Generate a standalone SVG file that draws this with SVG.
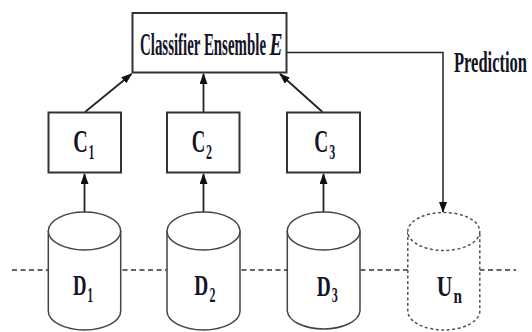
<svg xmlns="http://www.w3.org/2000/svg" width="532" height="332" viewBox="0 0 532 332">
<style>
.box{fill:#fff;stroke:#333;stroke-width:2}
.cyl{fill:#fff;stroke:#444;stroke-width:1.5}
.cylu{fill:#fff;stroke:#555;stroke-width:1.5;stroke-dasharray:3 2.5}
.lbl{font-family:"Liberation Serif","Times New Roman",serif;fill:#141428;font-weight:bold}
.big{font-size:31px}
.mid{font-size:29px}
.sub{font-size:21px}
.conn{fill:none;stroke:#222;stroke-width:1.8}
.dash{fill:none;stroke:#333;stroke-width:1.6;stroke-dasharray:5 3.5}
</style>
<defs>
<marker id="ah" markerUnits="userSpaceOnUse" markerWidth="11" markerHeight="8" refX="10" refY="4" orient="auto">
<path d="M0,0 L11,4 L0,8 z" fill="#111"/>
</marker>
</defs>
<g id="timeline">
<line class="dash" x1="12" y1="270" x2="516" y2="270"/>
</g>
<g id="connectors">
<line class="conn" x1="84.5" y1="212" x2="84.5" y2="174" marker-end="url(#ah)"/>
<line class="conn" x1="203.5" y1="212" x2="203.5" y2="174" marker-end="url(#ah)"/>
<line class="conn" x1="323.5" y1="212" x2="323.5" y2="174" marker-end="url(#ah)"/>
<line class="conn" x1="85" y1="112" x2="131.5" y2="74" marker-end="url(#ah)"/>
<line class="conn" x1="203.5" y1="112" x2="203.5" y2="74" marker-end="url(#ah)"/>
<line class="conn" x1="322.5" y1="112" x2="280" y2="74" marker-end="url(#ah)"/>
<polyline class="conn" points="287,52.5 443,52.5 443,212" marker-end="url(#ah)" style="stroke-width:1.5"/>
</g>
<g id="ensemble">
<rect class="box" x="132.5" y="13" width="154" height="59.5"/>
<text class="lbl big" transform="translate(140,55) scale(0.48,1)" textLength="262.5" lengthAdjust="spacingAndGlyphs">Classifier Ensemble</text>
<text class="lbl big" transform="translate(269.5,55) scale(0.63,1)" font-style="italic" textLength="20.6" lengthAdjust="spacingAndGlyphs">E</text>
</g>
<g id="prediction">
<text class="lbl" font-size="30" transform="translate(454,71.5) scale(0.55,1)" textLength="132.7" lengthAdjust="spacingAndGlyphs">Prediction</text>
</g>
<g id="c1">
<rect class="box" x="48.5" y="112.5" width="72.5" height="60"/>
<text class="lbl big" transform="translate(73.3,151.7) scale(0.65,1)" textLength="22.3" lengthAdjust="spacingAndGlyphs">C</text>
<text class="lbl sub" transform="translate(88.8,158.7) scale(0.55,1)" textLength="10" lengthAdjust="spacingAndGlyphs">1</text>
</g>
<g id="c2">
<rect class="box" x="167" y="112.5" width="72.5" height="60"/>
<text class="lbl big" transform="translate(191.7,151.7) scale(0.65,1)" textLength="20.8" lengthAdjust="spacingAndGlyphs">C</text>
<text class="lbl sub" transform="translate(206,158.7) scale(0.55,1)" textLength="10.9" lengthAdjust="spacingAndGlyphs">2</text>
</g>
<g id="c3">
<rect class="box" x="287" y="112.5" width="73" height="60"/>
<text class="lbl big" transform="translate(314.3,151.7) scale(0.65,1)" textLength="21.5" lengthAdjust="spacingAndGlyphs">C</text>
<text class="lbl sub" transform="translate(329.3,158.7) scale(0.55,1)" textLength="10.9" lengthAdjust="spacingAndGlyphs">3</text>
</g>
<g id="d1">
<path class="cyl" d="M48.3,231 L48.3,311 A36.2,19 0 0 0 120.7,311 L120.7,231"/>
<ellipse class="cyl" cx="84.5" cy="231" rx="36.2" ry="19"/>
<text class="lbl mid" transform="translate(73,295) scale(0.65,1)" textLength="20.8" lengthAdjust="spacingAndGlyphs">D</text>
<text class="lbl sub" transform="translate(87.5,301.5) scale(0.55,1)" textLength="10" lengthAdjust="spacingAndGlyphs">1</text>
</g>
<g id="d2">
<path class="cyl" d="M167,231 L167,311 A36.5,19 0 0 0 240,311 L240,231"/>
<ellipse class="cyl" cx="203.5" cy="231" rx="36.5" ry="19"/>
<text class="lbl mid" transform="translate(194.3,295) scale(0.65,1)" textLength="21.5" lengthAdjust="spacingAndGlyphs">D</text>
<text class="lbl sub" transform="translate(209.5,301.5) scale(0.55,1)" textLength="10.9" lengthAdjust="spacingAndGlyphs">2</text>
</g>
<g id="d3">
<path class="cyl" d="M287.3,231 L287.3,311 A36.4,19 0 0 0 360,311 L360,231"/>
<ellipse class="cyl" cx="323.6" cy="231" rx="36.4" ry="19"/>
<text class="lbl mid" transform="translate(316.7,295.5) scale(0.65,1)" textLength="21.5" lengthAdjust="spacingAndGlyphs">D</text>
<text class="lbl sub" transform="translate(331.7,302) scale(0.55,1)" textLength="10.9" lengthAdjust="spacingAndGlyphs">3</text>
</g>
<g id="un">
<path class="cylu" d="M407.8,231.5 L407.8,311 A36,19 0 0 0 479.8,311 L479.8,231.5"/>
<ellipse class="cylu" cx="443.8" cy="231.5" rx="36" ry="19"/>
<text class="lbl mid" transform="translate(436.7,296) scale(0.65,1)" textLength="23.8" lengthAdjust="spacingAndGlyphs">U</text>
<text class="lbl" font-size="22" transform="translate(453.5,302.5) scale(0.7,1)" textLength="12.1" lengthAdjust="spacingAndGlyphs">n</text>
</g>
</svg>
